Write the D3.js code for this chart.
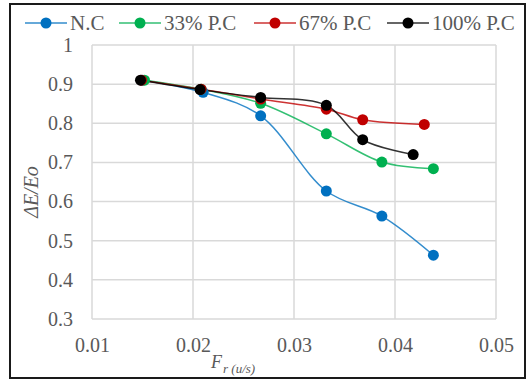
<!DOCTYPE html>
<html>
<head>
<meta charset="utf-8">
<script src="https://cdn.jsdelivr.net/npm/d3@7"></script>
<style>
  html, body { margin: 0; padding: 0; background: #fff; }
  svg { display: block; }
  text { font-family: "Liberation Serif", "DejaVu Serif", serif; }
</style>
</head>
<body>
<svg class="js-render-chart" width="529" height="380"></svg>
<script>
"use strict";

//data

const seriesNames = ["N.C", "33% P.C", "67% P.C", "100% P.C"];
const seriesColors = ["#0070c0", "#00b050", "#c00000", "#000000"];

const ncX = [0.0150, 0.0210, 0.0267, 0.0332, 0.0387, 0.0438];
const ncY = [0.910, 0.879, 0.819, 0.627, 0.563, 0.463];

const pc33X = [0.0152, 0.0208, 0.0267, 0.0332, 0.0387, 0.0438];
const pc33Y = [0.910, 0.887, 0.851, 0.773, 0.701, 0.684];

const pc67X = [0.0149, 0.0208, 0.0267, 0.0332, 0.0368, 0.0429];
const pc67Y = [0.910, 0.887, 0.862, 0.836, 0.809, 0.797];

const pc100X = [0.0148, 0.0207, 0.0267, 0.0332, 0.0368, 0.0418];
const pc100Y = [0.910, 0.886, 0.866, 0.846, 0.758, 0.720];

const xTicks = [0.01, 0.02, 0.03, 0.04, 0.05];
const yTicks = [0.3, 0.4, 0.5, 0.6, 0.7, 0.8, 0.9, 1];

//svg logic

const svg = d3.select(".js-render-chart");

const params = {
  left: 92,
  right: 496,
  top: 45,
  bottom: 319
};

const x = d3.scaleLinear().domain([0.01, 0.05]).range([params.left, params.right]);
const y = d3.scaleLinear().domain([0.3, 1]).range([params.bottom, params.top]);

//frame

svg.append("rect")
  .attr("x", 10)
  .attr("y", 4)
  .attr("width", 515)
  .attr("height", 374)
  .attr("fill", "#fff")
  .attr("stroke", "#1a1a1a")
  .attr("stroke-width", 2);

//grid

const grid = svg.append("g");

grid.selectAll(".gx")
  .data(xTicks)
  .enter()
  .append("line")
  .attr("x1", (d) => x(d))
  .attr("x2", (d) => x(d))
  .attr("y1", y(1))
  .attr("y2", y(0.3))
  .attr("stroke", "#d9d9d9")
  .attr("stroke-width", 1.5);

grid.selectAll(".gy")
  .data(yTicks)
  .enter()
  .append("line")
  .attr("x1", x(0.01))
  .attr("x2", x(0.05))
  .attr("y1", (d) => y(d))
  .attr("y2", (d) => y(d))
  .attr("stroke", "#d9d9d9")
  .attr("stroke-width", 1.5);

//axes

const xAxis = svg.append("g")
  .attr("transform", `translate(0,${params.bottom})`)
  .call(d3.axisBottom(x).tickValues(xTicks).tickSize(0).tickPadding(19).tickFormat(d3.format(".2f")));

const yAxis = svg.append("g")
  .attr("transform", `translate(${params.left},0)`)
  .call(d3.axisLeft(y).tickValues(yTicks).tickSize(0).tickPadding(19).tickFormat((d) => d === 1 ? "1" : d3.format(".1f")(d)));

[xAxis, yAxis].forEach((a) => {
  a.select(".domain").remove();
  a.selectAll("text")
    .attr("fill", "#595959")
    .style("font-family", "'Liberation Serif', serif")
    .style("font-size", "20px");
});

//axis titles

svg.append("text")
  .attr("transform", `translate(38,192) rotate(-90)`)
  .attr("text-anchor", "middle")
  .attr("fill", "#595959")
  .style("font-size", "20px")
  .style("font-style", "italic")
  .text("ΔE/Eo");

const xTitle = svg.append("text")
  .attr("x", 211)
  .attr("y", 368)
  .attr("fill", "#595959")
  .style("font-style", "italic");

xTitle.append("tspan").style("font-size", "18px").text("F");
xTitle.append("tspan").attr("dx", 1).attr("dy", 5).style("font-size", "13px").text("r (u/s)");

//series

const series = [
  { xs: ncX, ys: ncY },
  { xs: pc33X, ys: pc33Y },
  { xs: pc67X, ys: pc67Y },
  { xs: pc100X, ys: pc100Y }
].map((s, i) => ({
  name: seriesNames[i],
  color: seriesColors[i],
  points: s.xs.map((v, j) => [v, s.ys[j]])
}));

const line = d3.line()
  .x((d) => x(d[0]))
  .y((d) => y(d[1]))
  .curve(d3.curveCatmullRom.alpha(0.5));

const lines = svg.append("g");

series.forEach((s) => {
  lines.append("path")
    .datum(s.points)
    .attr("d", line)
    .attr("fill", "none")
    .attr("stroke", s.color)
    .attr("stroke-opacity", 0.8)
    .attr("stroke-width", 1.5);
});

series.forEach((s) => {
  lines.append("g")
    .selectAll("circle")
    .data(s.points)
    .enter()
    .append("circle")
    .attr("cx", (d) => x(d[0]))
    .attr("cy", (d) => y(d[1]))
    .attr("r", 5.5)
    .attr("fill", s.color);
});

//legend

const legendX = [25, 119, 254, 387];

const legend = svg.append("g")
  .selectAll("g")
  .data(series)
  .enter()
  .append("g")
  .attr("transform", (d, i) => `translate(${legendX[i]},23)`);

legend.append("line")
  .attr("x1", 0)
  .attr("x2", 42)
  .attr("stroke", (d) => d.color)
  .attr("stroke-opacity", 0.8)
  .attr("stroke-width", 1.5);

legend.append("circle")
  .attr("cx", 21)
  .attr("r", 5.5)
  .attr("fill", (d) => d.color);

legend.append("text")
  .attr("x", 45)
  .attr("dy", "0.35em")
  .attr("fill", "#595959")
  .style("font-size", "21px")
  .text((d) => d.name);
</script>
</body>
</html>
